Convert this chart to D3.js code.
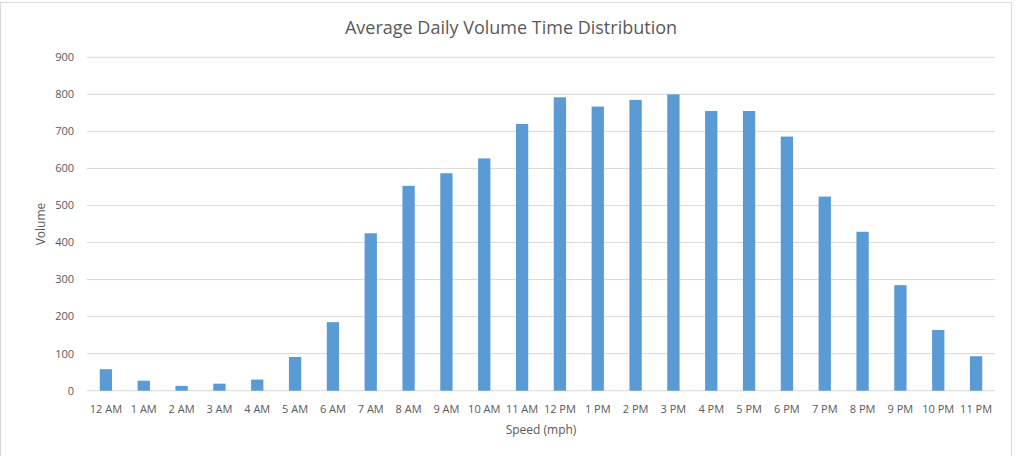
<!DOCTYPE html>
<html><head><meta charset="utf-8">
<script src="https://cdn.jsdelivr.net/npm/d3@7"></script>
<style>body{margin:0;background:#fff;} text{font-family:"Open Sans",sans-serif;}</style>
</head><body><svg id="c" width="1020" height="456"></svg>
<script>
const categories = ["12 AM","1 AM","2 AM","3 AM","4 AM","5 AM","6 AM","7 AM","8 AM","9 AM","10 AM","11 AM","12 PM","1 PM","2 PM","3 PM","4 PM","5 PM","6 PM","7 PM","8 PM","9 PM","10 PM","11 PM"];
const volumes = [58,27,13,19,30,91,185,425,553,587,627,720,792,767,785,800,755,755,686,524,429,285,164,93];
const yTicks = [0,100,200,300,400,500,600,700,800,900];

const svg = d3.select("#c");
svg.append("rect").attr("x",0.5).attr("y",2.5).attr("width",1011).attr("height",470)
  .attr("fill","#fff").attr("stroke","#d9d9d9");

const m = {l:87, r:995, t:57.3, b:390.7};
const x = d3.scaleBand().domain(categories).range([m.l,m.r]).paddingInner(0.675).paddingOuter(0.3375);
const y = d3.scaleLinear().domain([0,900]).range([m.b,m.t]);

const g = svg.append("g");
g.selectAll("line.grid").data(yTicks).join("line").attr("class","grid")
  .attr("x1",m.l).attr("x2",m.r).attr("y1",d=>y(d)).attr("y2",d=>y(d))
  .attr("stroke","#d9d9d9").attr("stroke-width",1);

g.selectAll("text.yt").data(yTicks).join("text").attr("class","yt")
  .attr("x",74).attr("y",d=>y(d)).attr("dy","0.35em").attr("text-anchor","end")
  .attr("font-size",11).attr("fill","#595959").text(d=>d);

g.selectAll("rect.bar").data(volumes).join("rect").attr("class","bar")
  .attr("x",(d,i)=>x(categories[i])).attr("width",x.bandwidth())
  .attr("y",d=>y(d)).attr("height",d=>y(0)-y(d)).attr("fill","#5b9bd5");

g.selectAll("text.xt").data(categories).join("text").attr("class","xt")
  .attr("x",d=>x(d)+x.bandwidth()/2).attr("y",409).attr("dy","0.35em").attr("text-anchor","middle")
  .attr("font-size",11).attr("fill","#595959").text(d=>d);

svg.append("text").attr("x",511).attr("y",28).attr("dy","0.35em").attr("text-anchor","middle")
  .attr("font-size",18).attr("fill","#595959").text("Average Daily Volume Time Distribution");
svg.append("text").attr("transform","translate(41,224) rotate(-90)").attr("dy","0.35em").attr("text-anchor","middle")
  .attr("font-size",12).attr("fill","#595959").text("Volume");
svg.append("text").attr("x",541).attr("y",430).attr("dy","0.35em").attr("text-anchor","middle")
  .attr("font-size",12).attr("fill","#595959").text("Speed (mph)");
</script></body></html>
